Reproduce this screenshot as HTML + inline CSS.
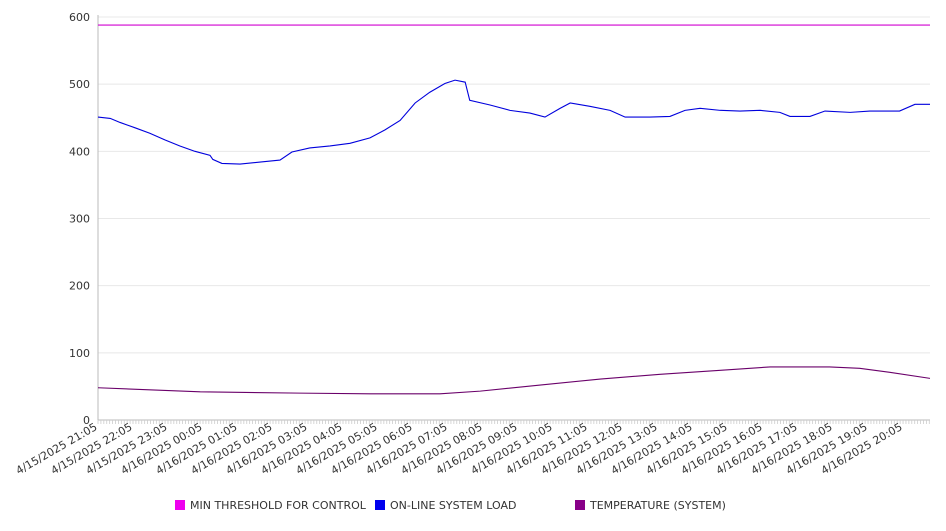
<!DOCTYPE html>
<html><head><meta charset="utf-8"><style>
html,body{margin:0;padding:0;background:#fff;}
svg text{font-family:"DejaVu Sans","Liberation Sans",sans-serif;}
</style></head><body>
<svg id="chart" width="946" height="526" xmlns="http://www.w3.org/2000/svg">
<g id="grid"></g>
<g id="yaxis"></g>
<g id="xaxis"></g>
<g id="series"></g>
<g id="legend"></g>
</svg>
<script>
const yTicks=[0,100,200,300,400,500,600];
const xLabels=["4/15/2025 21:05","4/15/2025 22:05","4/15/2025 23:05","4/16/2025 00:05","4/16/2025 01:05","4/16/2025 02:05","4/16/2025 03:05","4/16/2025 04:05","4/16/2025 05:05","4/16/2025 06:05","4/16/2025 07:05","4/16/2025 08:05","4/16/2025 09:05","4/16/2025 10:05","4/16/2025 11:05","4/16/2025 12:05","4/16/2025 13:05","4/16/2025 14:05","4/16/2025 15:05","4/16/2025 16:05","4/16/2025 17:05","4/16/2025 18:05","4/16/2025 19:05","4/16/2025 20:05"];
const loadHours=[0,.35,.63,1.06,1.48,1.91,2.34,2.77,3.2,3.28,3.54,4.06,4.63,5.2,5.54,6.05,6.63,7.2,7.77,8.2,8.63,9.06,9.48,9.91,10.2,10.49,10.62,11.2,11.77,12.34,12.77,13.2,13.49,14.05,14.63,15.06,15.77,16.34,16.77,17.2,17.78,18.34,18.92,19.48,19.77,20.34,20.77,21.49,22.05,22.9,23.34,23.77];
const loadValues=[451,449,443,435,427,417,408,400,394,388,382,381,384,387,399,405,408,412,420,432,446,472,488,501,506,503,476,469,461,457,451,464,472,467,461,451,451,452,461,464,461,460,461,458,452,452,460,458,460,460,470,470];
const tempHours=[0,2.92,5.77,7.77,9.77,10.92,12.63,14.35,16.06,17.78,19.2,20.9,21.76,22.62,23.77];
const tempValues=[48,42,40,39,39,43,52,61,68,74,79,79,77,71,62];
const thresholdValue=588;
const hourMax=23.77;
const X0=98,X1=930,Y0=420,Y1=17;
const xs=h=>X0+h*(X1-X0)/hourMax;
const ys=v=>Y0-v*(Y0-Y1)/600;
const NS="http://www.w3.org/2000/svg";
function mk(p,t,a){const e=document.createElementNS(NS,t);for(const k in a)e.setAttribute(k,a[k]);p.appendChild(e);return e;}
const grid=document.getElementById('grid'),ya=document.getElementById('yaxis'),xa=document.getElementById('xaxis'),se=document.getElementById('series'),lg=document.getElementById('legend');
yTicks.forEach(v=>{
 if(v>0){const l=mk(grid,'line',{x1:X0,x2:X1,y1:ys(v),y2:ys(v),stroke:'#e8e8e8','stroke-width':1});
 
 }
 const t=mk(ya,'text',{x:90,y:ys(v)+4,'text-anchor':'end','font-size':11,fill:'#333'});t.textContent=v;
 
 
});
mk(ya,'line',{x1:X0,x2:X0,y1:Y1-2,y2:Y0,stroke:'#bbb','stroke-width':1});
mk(xa,'line',{x1:X0,x2:X1,y1:Y0,y2:Y0,stroke:'#bbb','stroke-width':1});
for(let h=0;h<=hourMax;h+=1/12){mk(xa,'line',{x1:xs(h),x2:xs(h),y1:Y0,y2:Y0+4,stroke:'#ccc','stroke-width':0.8});}
xLabels.forEach((s,i)=>{
 const x=xs(i),y=Y0+9;
 const t=mk(xa,'text',{x:x,y:y,'text-anchor':'end','font-size':11,fill:'#333',transform:`rotate(-30 ${x} ${y})`});t.textContent=s;
 
 
});
function line(hs,vs,c,name){
 const p=mk(se,'polyline',{points:hs.map((h,i)=>xs(h)+','+ys(vs[i])).join(' '),fill:'none',stroke:c,'stroke-width':1.1});
 
 
}
line([0,hourMax],[thresholdValue,thresholdValue],'#d000d0','threshold-line');
line(loadHours,loadValues,'#0000dd','load-line');
line(tempHours,tempValues,'#6a006a','temperature-line');
[["MIN THRESHOLD FOR CONTROL","#ee00ee",175],["ON-LINE SYSTEM LOAD","#0000ee",375],["TEMPERATURE (SYSTEM)","#880088",575]].forEach(([n,c,x])=>{
 const g=mk(lg,'g',{});
 
 
 mk(g,'rect',{x:x,y:500,width:10,height:10,fill:c});
 const t=mk(g,'text',{x:x+15,y:509,'font-size':11,fill:'#333'});t.textContent=n;
});
</script>
</body></html>
